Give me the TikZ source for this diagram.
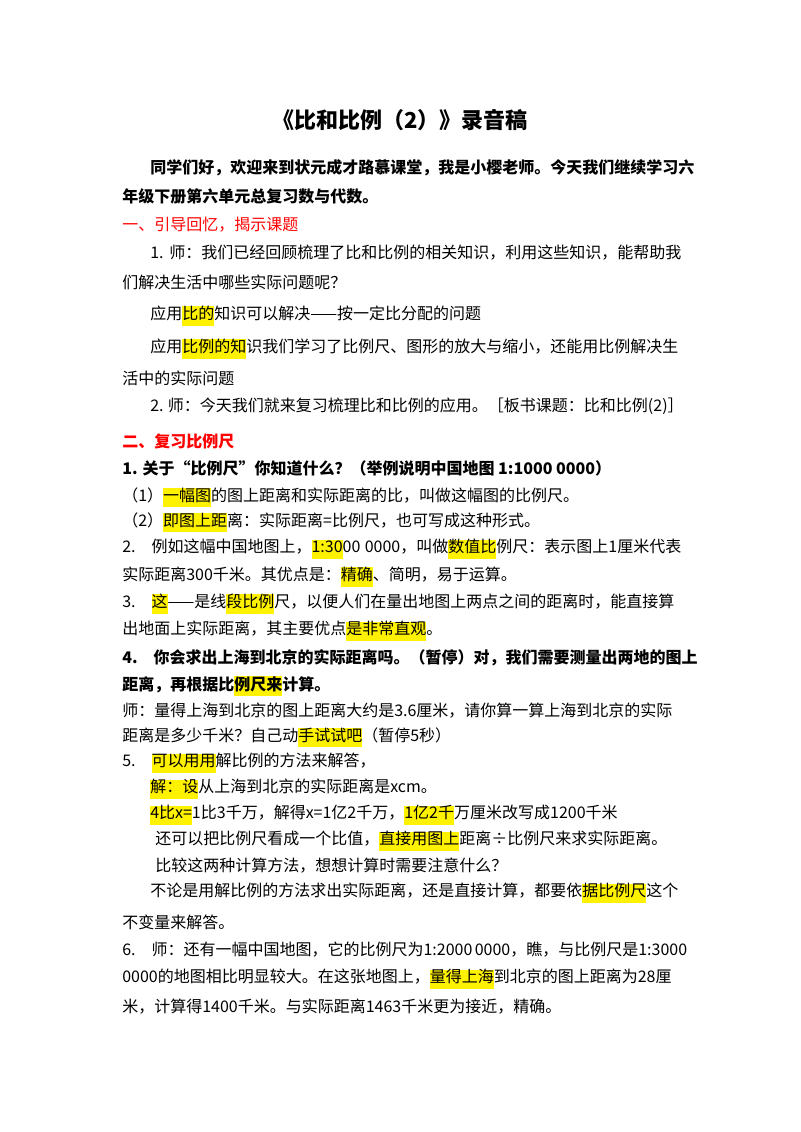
\documentclass[tikz,border=0pt]{standalone}
\usepackage{fontspec}
\usepackage{xcolor}
\newfontfamily\cjk{Noto Sans CJK SC}
\XeTeXlinebreaklocale "zh"
\XeTeXlinebreakskip=0pt plus 3pt
\setlength{\fboxsep}{0pt}
\newcommand{\hl}[1]{\colorbox{yellow}{\strut #1}}
\newcommand{\fullA}[1]{\hbox to 419.25pt{#1}}
\newcommand{\fullB}[1]{\hbox to 398.25pt{#1}}

\begin{document}
\begin{tikzpicture}[x=0.75pt,y=-0.75pt,
    txt/.style = {anchor=west, inner sep=0pt,
      font=\cjk\fontsize{12}{14}\selectfont},
    btxt/.style = {txt, font=\cjk\bfseries\fontsize{12}{14}\selectfont},
    rtxt/.style = {txt, text=red}]
  \useasboundingbox[fill=white] (0,0) rectangle (800,1132);

  % title
  \node[inner sep=0pt, font=\cjk\bfseries\fontsize{16.5}{18}\selectfont] (title) at (400,120) {《比和比例（2）》录音稿};

  % opening
  \node[btxt] (l1) at (150,168) {\fullB{同学们好，欢迎来到状元成才路慕课堂，我是小樱老师。今天我们继续学习六}};
  \node[btxt] (l2) at (122,196) {年级下册第六单元总复习数与代数。};

  % part one
  \node[rtxt] (h1) at (122,225) {一、引导回忆，揭示课题};
  \node[txt] (l3) at (150,253) {\fullB{1. 师：我们已经回顾梳理了比和比例的相关知识，利用这些知识，能帮助我}};
  \node[txt] (l4) at (122,282) {们解决生活中哪些实际问题呢？};
  \node[txt] (l5) at (150,316) {应用\hl{比的}知识可以解决——按一定比分配的问题};
  \node[txt] (l6) at (150,349) {\fullB{应用\hl{比例的知}识我们学习了比例尺、图形的放大与缩小，还能用比例解决生}};
  \node[txt] (l7) at (122,378) {活中的实际问题};
  \node[txt] (l8) at (150,406) {\fullB{2. 师：今天我们就来复习梳理比和比例的应用。［板书课题：比和比例(2)］}};

  % part two
  \node[rtxt, font=\cjk\bfseries\fontsize{12}{14}\selectfont] (h2) at (122,441) {二、复习比例尺};
  \node[btxt] (l9) at (122,468) {1. 关于“比例尺”你知道什么？（举例说明中国地图 1:1000 0000）};
  \node[txt] (l10) at (122,497) {（1）\hl{一幅图}的图上距离和实际距离的比，叫做这幅图的比例尺。};
  \node[txt] (l11) at (122,522) {（2）\hl{即图上距}离：实际距离=比例尺，也可写成这种形式。};
  \node[txt] (l12) at (122,549) {\fullA{2.\quad 例如这幅中国地图上，\hl{1:30}00 0000，叫做\hl{数值比}例尺：表示图上1厘米代表}};
  \node[txt] (l13) at (122,577) {实际距离300千米。其优点是：\hl{精确}、简明，易于运算。};
  \node[txt] (l14) at (122,604) {\fullA{3.\quad \hl{这}——是线\hl{段比例}尺，以便人们在量出地图上两点之间的距离时，能直接算}};
  \node[txt] (l15) at (122,631) {出地面上实际距离，其主要优点\hl{是非常直观}。};
  \node[btxt] (l16) at (122,658) {\fullA{4.\quad 你会求出上海到北京的实际距离吗。（暂停）对，我们需要测量出两地的图上}};
  \node[btxt] (l17) at (122,686) {距离，再根据比\hl{例尺来}计算。};
  \node[txt] (l18) at (122,711) {\fullA{师：量得上海到北京的图上距离大约是3.6厘米，请你算一算上海到北京的实际}};
  \node[txt] (l19) at (122,737) {距离是多少千米？自己动\hl{手试试吧}（暂停5秒）};
  \node[txt] (l20) at (122,763) {5.\quad \hl{可以用用}解比例的方法来解答，};
  \node[txt] (l21) at (150,789) {\hl{解：设}从上海到北京的实际距离是xcm。};
  \node[txt] (l22) at (150,815) {\hl{4比x=}1比3千万，解得x=1亿2千万，\hl{1亿2千}万厘米改写成1200千米};
  \node[txt] (l23) at (155,841) {还可以把比例尺看成一个比值，\hl{直接用图上}距离÷比例尺来求实际距离。};
  \node[txt] (l24) at (155,866) {比较这两种计算方法，想想计算时需要注意什么？};
  \node[txt] (l25) at (150,893) {\fullB{不论是用解比例的方法求出实际距离，还是直接计算，都要依\hl{据比例尺}这个}};
  \node[txt] (l26) at (122,922) {不变量来解答。};
  \node[txt] (l27) at (122,950) {\fullA{6.\quad 师：还有一幅中国地图，它的比例尺为1:2000 0000，瞧，与比例尺是1:3000}};
  \node[txt] (l28) at (122,979) {\fullA{0000的地图相比明显较大。在这张地图上，\hl{量得上海}到北京的图上距离为28厘}};
  \node[txt] (l29) at (122,1007) {米，计算得1400千米。与实际距离1463千米更为接近，精确。};
\end{tikzpicture}
\end{document}
